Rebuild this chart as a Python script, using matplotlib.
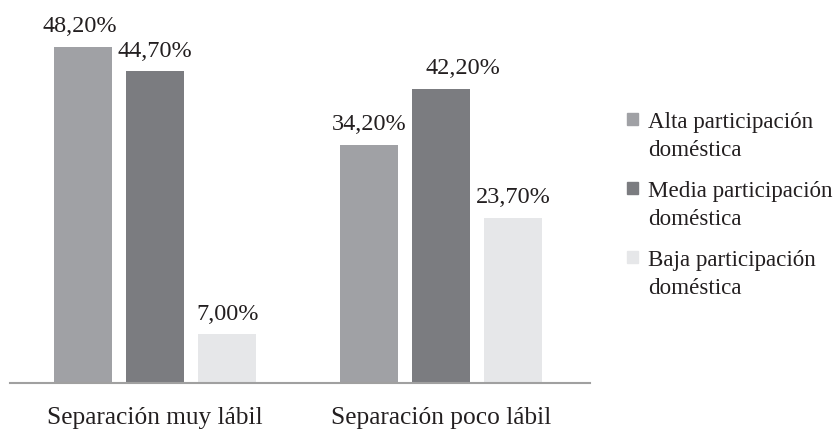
import numpy as np
import matplotlib.pyplot as plt
from matplotlib.patches import Patch, Rectangle
from matplotlib.legend_handler import HandlerPatch

plt.rcParams['font.family'] = ['Liberation Serif', 'DejaVu Serif']

categories = ["Separación muy lábil", "Separación poco lábil"]
series = ["Alta participación\ndoméstica",
          "Media participación\ndoméstica",
          "Baja participación\ndoméstica"]
alta = [48.2, 34.2]
media = [44.7, 42.2]
baja = [7.0, 23.7]
colors = ["#A0A1A5", "#7B7C80", "#E6E7E9"]

values = [alta, media, baja]
txt_color = "#231F20"
# small horizontal nudges (points) of some value labels, as in the original
label_nudge = {(0, 0): -2, (1, 1): 16}

fig = plt.figure(figsize=(8.36, 4.38), dpi=100)
ax = fig.add_axes([10 / 836, 55 / 438, 580 / 836, (383 - 34.5) / 438])

x = np.arange(len(categories))
slot = 0.252
width = 0.203
for i, (vals, col, name) in enumerate(zip(values, colors, series)):
    pos = x + (i - 1) * slot
    bars = ax.bar(pos, vals, width, color=col, label=name)
    for j, (b, v) in enumerate(zip(bars, vals)):
        ax.annotate(f"{v:.2f}%".replace(".", ","),
                    (b.get_x() + b.get_width() / 2, b.get_height()),
                    xytext=(label_nudge.get((j, i), 0), 10.5), textcoords="offset points",
                    ha="center", va="baseline", fontsize=17.5, color=txt_color)

ax.set_xlim(-0.507, 1.52)
ax.set_ylim(0, 50)
ax.set_xticks(x)
ax.set_xticklabels(categories, fontsize=18.3, color=txt_color)
ax.tick_params(axis="x", length=0, pad=17)
ax.set_yticks([])
for s in ["top", "right", "left"]:
    ax.spines[s].set_visible(False)
ax.spines["bottom"].set_color("#A0A0A0")
ax.spines["bottom"].set_linewidth(1.5)


# square sits on the first line of the two-line label
def top_square(legend, orig_handle, xdescent, ydescent, width, height, fontsize):
    size = 0.48 * fontsize
    return Rectangle((-xdescent, -ydescent + 0.86 * fontsize), size, size)


handles = [Patch(color=c) for c in colors]
leg = fig.legend(handles, series, loc="upper left", bbox_to_anchor=(627 / 836, 1 - 112 / 438),
                 frameon=False, fontsize=16.6, handlelength=0.48, handletextpad=0.45,
                 labelspacing=0.88, borderaxespad=0, borderpad=0,
                 handler_map={Patch: HandlerPatch(patch_func=top_square)})
for t in leg.get_texts():
    t.set_color(txt_color)
    t.set_linespacing(1.42)

fig.savefig("out.png", dpi=100)
